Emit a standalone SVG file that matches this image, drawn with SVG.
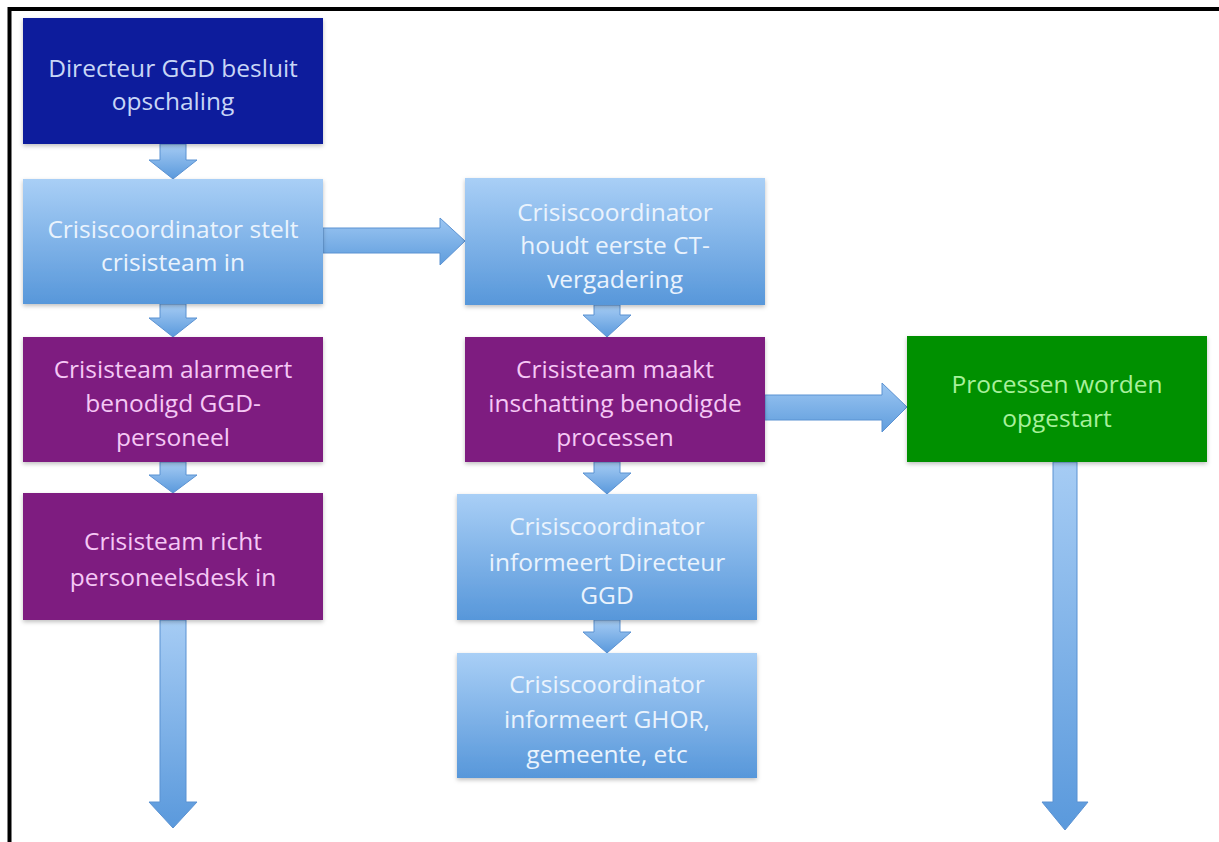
<svg xmlns="http://www.w3.org/2000/svg" width="1219" height="842" viewBox="0 0 1219 842">
<defs>
<linearGradient id="gBlue" x1="0" y1="0" x2="0" y2="1">
<stop offset="0" stop-color="#a9cff6"/>
<stop offset="1" stop-color="#5797da"/>
</linearGradient>
<linearGradient id="gArrow" x1="0" y1="0" x2="0" y2="1">
<stop offset="0" stop-color="#a6ccf4"/>
<stop offset="1" stop-color="#5a99dc"/>
</linearGradient>
<linearGradient id="gArrowH" x1="0" y1="0" x2="0" y2="1">
<stop offset="0" stop-color="#9cc6f2"/>
<stop offset="1" stop-color="#5f9ddd"/>
</linearGradient>
<filter id="sh" x="-5%" y="-5%" width="110%" height="115%">
<feDropShadow dx="0" dy="2" stdDeviation="2" flood-color="#000" flood-opacity="0.25"/>
</filter>
</defs>
<style>
.t{font-family:"Open Sans","Liberation Sans",sans-serif;font-size:24.5px;text-anchor:middle}
.dk{fill:#0b1a9c}
.lb{fill:url(#gBlue)}
.pu{fill:#7e1a80}
.gr{fill:#039003}
.tdk{fill:#c8d6f6}
.tlb{fill:#eaf3fd}
.tpu{fill:#f5c8f5}
.tgr{fill:#a8f09c}
.arr{fill:url(#gArrow);stroke:#5b92d2;stroke-width:1}
.arrh{fill:url(#gArrowH);stroke:#5b92d2;stroke-width:1}
</style>
<rect width="1219" height="842" fill="#ffffff"/>
<path d="M9.5 842 V9 H1219" fill="none" stroke="#000" stroke-width="4"/>

<g id="connectors">
<polygon class="arr" points="160,144 186,144 186,160 197,160 173,179 149,160 160,160"/>
<polygon class="arr" points="160,304 186,304 186,318 197,318 173,337 149,318 160,318"/>
<polygon class="arr" points="160,462 186,462 186,475 197,475 173,493 149,475 160,475"/>
<polygon class="arr" points="160,620 186,620 186,802 197,802 173,828 149,802 160,802"/>
<polygon class="arrh" points="323,228 440,228 440,218 465,241 440,265 440,253 323,253"/>
<polygon class="arr" points="594,305 620,305 620,315 631,315 607,337 583,315 594,315"/>
<polygon class="arr" points="594,462 620,462 620,473 631,473 607,494 583,473 594,473"/>
<polygon class="arr" points="594,620 620,620 620,632 631,632 607,653 583,632 594,632"/>
<polygon class="arrh" points="765,395 882,395 882,383 907,407 882,432 882,420 765,420"/>
<polygon class="arr" points="1053,462 1077,462 1077,802 1088,802 1065,830 1042,802 1053,802"/>
</g>

<g id="n1">
<rect class="dk" x="23" y="18" width="300" height="126" filter="url(#sh)"/>
<text class="t tdk" x="173" y="77">Directeur GGD besluit</text>
<text class="t tdk" x="173" y="110">opschaling</text>
</g>
<g id="n2">
<rect class="lb" x="23" y="179" width="300" height="125" filter="url(#sh)"/>
<text class="t tlb" x="173" y="238">Crisiscoordinator stelt</text>
<text class="t tlb" x="173" y="271">crisisteam in</text>
</g>
<g id="n3">
<rect class="pu" x="23" y="337" width="300" height="125" filter="url(#sh)"/>
<text class="t tpu" x="173" y="378">Crisisteam alarmeert</text>
<text class="t tpu" x="173" y="412">benodigd GGD-</text>
<text class="t tpu" x="173" y="446">personeel</text>
</g>
<g id="n4">
<rect class="pu" x="23" y="493" width="300" height="127" filter="url(#sh)"/>
<text class="t tpu" x="173" y="550">Crisisteam richt</text>
<text class="t tpu" x="173" y="586">personeelsdesk in</text>
</g>
<g id="n5">
<rect class="lb" x="465" y="178" width="300" height="127" filter="url(#sh)"/>
<text class="t tlb" x="615" y="221">Crisiscoordinator</text>
<text class="t tlb" x="615" y="254">houdt eerste CT-</text>
<text class="t tlb" x="615" y="288">vergadering</text>
</g>
<g id="n6">
<rect class="pu" x="465" y="337" width="300" height="125" filter="url(#sh)"/>
<text class="t tpu" x="615" y="378">Crisisteam maakt</text>
<text class="t tpu" x="615" y="412">inschatting benodigde</text>
<text class="t tpu" x="615" y="446">processen</text>
</g>
<g id="n7">
<rect class="lb" x="457" y="494" width="300" height="126" filter="url(#sh)"/>
<text class="t tlb" x="607" y="535">Crisiscoordinator</text>
<text class="t tlb" x="607" y="571">informeert Directeur</text>
<text class="t tlb" x="607" y="604">GGD</text>
</g>
<g id="n8">
<rect class="lb" x="457" y="653" width="300" height="125" filter="url(#sh)"/>
<text class="t tlb" x="607" y="693">Crisiscoordinator</text>
<text class="t tlb" x="607" y="728">informeert GHOR,</text>
<text class="t tlb" x="607" y="763">gemeente, etc</text>
</g>
<g id="n9">
<rect class="gr" x="907" y="336" width="300" height="126" filter="url(#sh)"/>
<text class="t tgr" x="1057" y="393">Processen worden</text>
<text class="t tgr" x="1057" y="427">opgestart</text>
</g>
</svg>
